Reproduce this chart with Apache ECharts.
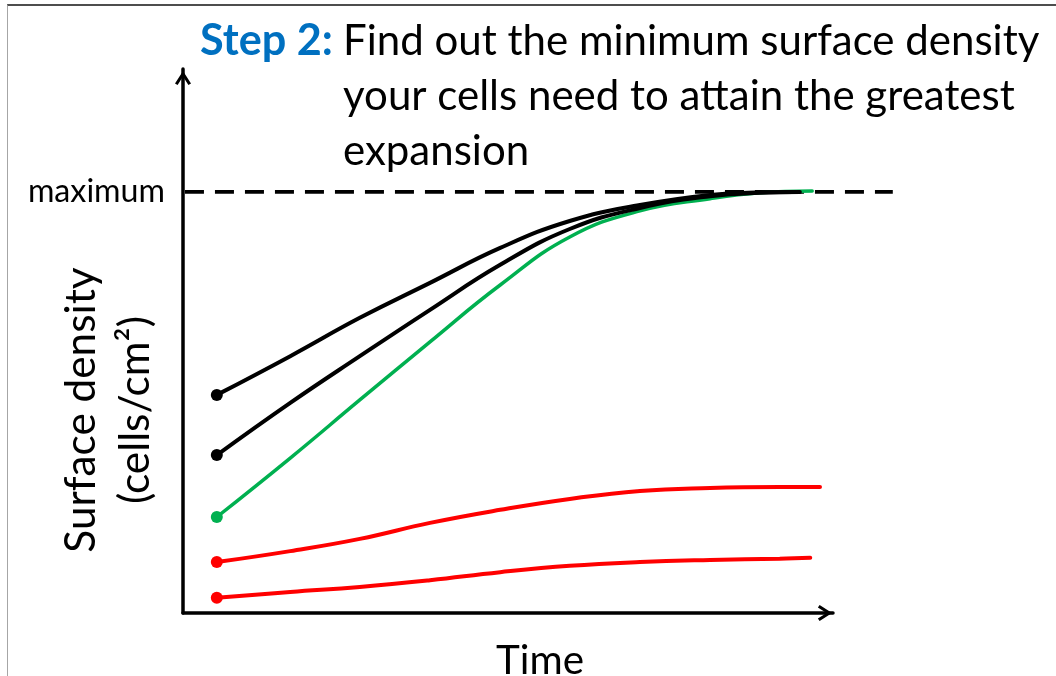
<!DOCTYPE html>
<html>
<head>
<meta charset="utf-8">
<script src="https://cdn.jsdelivr.net/npm/echarts@6/dist/echarts.min.js"></script>
<style>
html,body{margin:0;padding:0;background:#fff;}
#c{width:1056px;height:676px;}
#frame{position:absolute;left:7px;top:4px;right:0;bottom:0;border-left:1px solid #a6a6a6;border-top:2px solid #4d4d4d;pointer-events:none;}
</style>
</head>
<body>
<div id="c"></div>
<div id="frame"></div>
<script>
// ---- data (time, surface density in % of maximum) ----
const black1 = [[5.2,51.8],[16.5,61.0],[27.2,70.1],[38.0,78.4],[48.8,86.7],[59.5,93.1],[70.3,96.9],[81.1,99.3],[88.8,99.9],[94.2,100]];
const black2 = [[5.2,37.5],[16.5,49.9],[27.2,61.0],[38.0,72.0],[48.8,82.7],[59.5,91.2],[70.3,96.2],[81.1,99.0],[88.8,99.8],[94.9,100]];
const green  = [[5.2,22.8],[16.5,36.8],[27.2,50.6],[38.0,64.4],[48.8,77.9],[59.5,89.3],[70.3,95.5],[81.1,98.4],[88.8,99.8],[96.8,100.2]];
const red1   = [[5.2,12.1],[16.5,14.7],[27.2,17.6],[38.0,21.4],[48.8,24.5],[59.5,27.1],[70.3,29.0],[81.1,29.7],[91.8,29.9],[98.0,29.9]];
const red2   = [[5.2,3.6],[16.5,5.0],[27.2,6.2],[38.0,7.8],[48.8,9.7],[59.5,11.2],[70.3,12.1],[81.1,12.6],[91.8,12.9],[96.5,13.1]];
const maxLine = [[0.3,100],[109.2,100]];
const yTickValues = [100];
const yTickLabels = ['maximum'];
const titleStep = 'Step 2:';
const titleLines = ['Find out the minimum surface density', 'your cells need to attain the greatest', 'expansion'];
const xName = 'Time';
const yName = 'Surface density\n(cells/cm\u00B2)';

// ---- helpers ----
const FAMILY = 'Lato';
const cv = document.createElement('canvas').getContext('2d');
function fit(text, weight, target) {
  cv.font = weight + ' 100px ' + FAMILY;
  return Math.round(100 * target / cv.measureText(text).width * 10) / 10;
}
const fsTitle = fit(titleLines[0], 'normal', 697);
const fsStep = fit(titleStep, 'bold', 133);
const fsMax = fit(yTickLabels[0], 'normal', 137);
const fsTime = fit(xName, 'normal', 88);
const fsY = fit('Surface density', 'normal', 285);

const chevron = 'path://M8,0 L16,12.5 L13.4,14.2 L8,5.6 L2.6,14.2 L0,12.5 Z';
const YMAX = 129.2;

function mk(pts, color, width, z) {
  return {
    type: 'line', xAxisIndex: 0, yAxisIndex: 0,
    data: pts.map((p, i) => i === 0 ? {value: p, symbol: 'circle', symbolSize: 12} : {value: p, symbol: 'none'}),
    symbol: 'none', showSymbol: true, smooth: 0.45,
    lineStyle: {color: color, width: width, cap: 'round'}, itemStyle: {color: color},
    clip: false, z: z, silent: true
  };
}

const chart = echarts.init(document.getElementById('c'), null, {renderer: 'canvas'});
chart.setOption({
  animation: false,
  backgroundColor: '#fff',
  textStyle: {fontFamily: FAMILY},
  title: [
    {text: titleStep, left: 200, top: 14, padding: 0,
     textStyle: {fontFamily: FAMILY, fontWeight: 'bold', fontSize: fsStep, color: '#0070C0', lineHeight: 55}},
    {text: titleLines.join('\n'), left: 343, top: 14, padding: 0,
     textStyle: {fontFamily: FAMILY, fontWeight: 'normal', fontSize: fsTitle, color: '#000', lineHeight: 55}}
  ],
  grid: [
    {left: 183, right: 158, top: 69, bottom: 63, outerBoundsMode: 'none', containLabel: false},
    {left: 183, right: 223, top: 69, bottom: 63, outerBoundsMode: 'none', containLabel: false}
  ],
  xAxis: [
    {gridIndex: 0, type: 'value', min: 0, max: 110, show: false},
    {gridIndex: 1, type: 'value', min: 0, max: 100,
     axisLine: {show: true, onZero: false, lineStyle: {color: '#000', width: 3.5},
                symbol: ['none', chevron], symbolSize: [16, 16], symbolOffset: [0, -8]},
     axisTick: {show: false}, axisLabel: {show: false}, splitLine: {show: false},
     name: xName, nameLocation: 'middle', nameGap: 24, nameMoveOverlap: false,
     nameTextStyle: {fontFamily: FAMILY, fontSize: fsTime, color: '#000', padding: [0, 0, 0, 64], lineHeight: fsTime * 1.2}}
  ],
  yAxis: [
    {gridIndex: 0, type: 'value', min: 0, max: YMAX, show: false},
    {gridIndex: 1, type: 'value', min: 0, max: YMAX, interval: 100,
     axisLine: {show: true, onZero: false, lineStyle: {color: '#000', width: 3.5},
                symbol: ['none', chevron], symbolSize: [16, 18], symbolOffset: [0, -9]},
     axisTick: {show: false}, splitLine: {show: false},
     axisLabel: {show: true, margin: 18, fontFamily: FAMILY, fontSize: fsMax, color: '#000',
                 formatter: function (v) { const k = yTickValues.indexOf(v); return k >= 0 ? yTickLabels[k] : ''; }},
     name: yName, nameLocation: 'middle', nameRotate: 90, nameGap: 21, nameMoveOverlap: false,
     nameTextStyle: {fontFamily: FAMILY, fontSize: fsY, color: '#000', lineHeight: 54, padding: [0, 138, 0, 0]}}
  ],
  series: [
    {type: 'line', xAxisIndex: 0, yAxisIndex: 0, data: maxLine, symbol: 'none', silent: true, clip: false, z: 1,
     lineStyle: {color: '#000', width: 3.8, type: [19, 11]}},
    mk(red2, '#FF0000', 4, 2),
    mk(red1, '#FF0000', 4, 2),
    mk(green, '#00B050', 3.5, 3),
    mk(black2, '#000000', 4, 4),
    mk(black1, '#000000', 4, 4)
  ]
});
</script>
</body>
</html>
